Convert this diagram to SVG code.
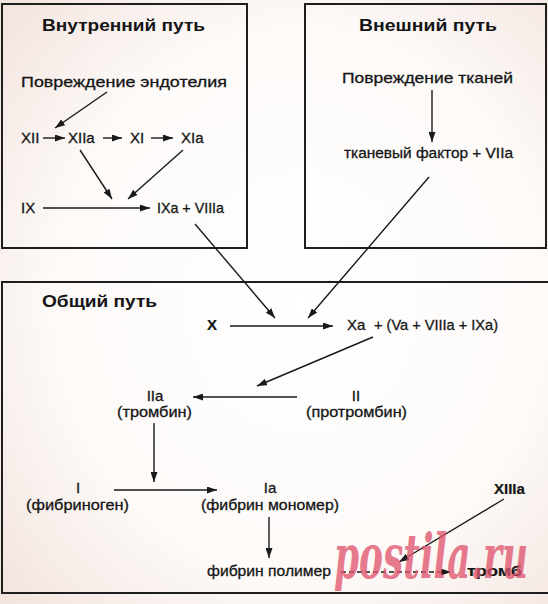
<svg xmlns="http://www.w3.org/2000/svg" width="548" height="604" viewBox="0 0 548 604">
<defs>
<radialGradient id="bg" cx="0.55" cy="0.5" r="0.75">
<stop offset="0" stop-color="#ffffff"/>
<stop offset="0.6" stop-color="#fdfaf8"/>
<stop offset="1" stop-color="#f2e2dc"/>
</radialGradient>
<marker id="ah" markerUnits="userSpaceOnUse" markerWidth="10" markerHeight="7" refX="10" refY="3.5" orient="auto">
<path d="M0,0 L10,3.5 L0,7 z" fill="#1a1a1a"/>
</marker>
</defs>
<style>
.box{fill:none;stroke:#1e1e1e;stroke-width:2}
.t{font-family:"Liberation Sans",Arial,sans-serif;font-size:15px;fill:#151515;stroke:#151515;stroke-width:0.3}
.b{font-weight:bold;stroke-width:0.2}
.h{font-family:"Liberation Sans",Arial,sans-serif;font-size:17px;font-weight:bold;fill:#151515}
.c line{stroke:#1a1a1a;stroke-width:1.4;marker-end:url(#ah)}
.c .d{stroke-dasharray:5 3}
.wm{font-family:"DejaVu Serif","Liberation Serif",serif;font-style:italic;font-weight:bold;font-size:62px;fill:#e0566f;opacity:0.78}
</style>
<rect width="548" height="604" fill="url(#bg)"/>
<g id="intrinsic">
<rect class="box" x="2" y="4" width="245" height="244"/>
<text class="h" x="42" y="31" textLength="163" lengthAdjust="spacingAndGlyphs">Внутренний путь</text>
<text class="t" x="21" y="87" textLength="206" lengthAdjust="spacingAndGlyphs">Повреждение эндотелия</text>
<text class="t" x="21" y="143">XII</text>
<text class="t" x="68" y="143">XIIa</text>
<text class="t" x="130" y="143">XI</text>
<text class="t" x="181" y="143">XIa</text>
<text class="t" x="21" y="213">IX</text>
<text class="t" x="157" y="213" textLength="67" lengthAdjust="spacingAndGlyphs">IXa + VIIIa</text>
</g>
<g id="extrinsic">
<rect class="box" x="305" y="4" width="241" height="244"/>
<text class="h" x="359" y="31" textLength="138" lengthAdjust="spacingAndGlyphs">Внешний путь</text>
<text class="t" x="342" y="83" textLength="171" lengthAdjust="spacingAndGlyphs">Повреждение тканей</text>
<text class="t" x="344" y="158" textLength="169" lengthAdjust="spacingAndGlyphs">тканевый фактор + VIIa</text>
</g>
<g id="common">
<rect class="box" x="2" y="282" width="560" height="311"/>
<text class="h" x="42" y="307" textLength="115" lengthAdjust="spacingAndGlyphs">Общий путь</text>
<text class="t b" x="207" y="330">X</text>
<text class="t" x="347" y="330">Xa</text>
<text class="t" x="374" y="330" textLength="124" lengthAdjust="spacingAndGlyphs">+ (Va + VIIIa + IXa)</text>
<text class="t" x="155" y="401" text-anchor="middle">IIa</text>
<text class="t" x="117" y="417" textLength="75" lengthAdjust="spacingAndGlyphs">(тромбин)</text>
<text class="t" x="356" y="401" text-anchor="middle">II</text>
<text class="t" x="306" y="417" textLength="101" lengthAdjust="spacingAndGlyphs">(протромбин)</text>
<text class="t" x="78" y="493" text-anchor="middle">I</text>
<text class="t" x="26" y="510" textLength="103" lengthAdjust="spacingAndGlyphs">(фибриноген)</text>
<text class="t" x="270" y="493" text-anchor="middle">Ia</text>
<text class="t" x="201" y="510" textLength="138" lengthAdjust="spacingAndGlyphs">(фибрин мономер)</text>
<text class="t" x="207" y="576" textLength="124" lengthAdjust="spacingAndGlyphs">фибрин полимер</text>
<text class="t b" x="467" y="576" textLength="55" lengthAdjust="spacingAndGlyphs">тромб</text>
<text class="t b" x="494" y="494">XIIIa</text>
</g>
<g id="connectors" class="c">
<line x1="107" y1="92" x2="55" y2="128"/>
<line x1="43" y1="138" x2="65" y2="138"/>
<line x1="103" y1="138" x2="122" y2="138"/>
<line x1="151" y1="138" x2="173" y2="138"/>
<line x1="80" y1="150" x2="112" y2="199"/>
<line x1="183" y1="150" x2="128" y2="199"/>
<line x1="43" y1="208" x2="150" y2="208"/>
<line x1="195" y1="224" x2="275" y2="318"/>
<line x1="432" y1="90" x2="432" y2="142"/>
<line x1="429" y1="177" x2="308" y2="318"/>
<line x1="230" y1="326" x2="333" y2="326"/>
<line x1="373" y1="337" x2="257" y2="386"/>
<line x1="297" y1="397" x2="193" y2="397"/>
<line x1="154" y1="423" x2="154" y2="482"/>
<line x1="114" y1="490" x2="217" y2="490"/>
<line x1="269" y1="517" x2="269" y2="558"/>
<line class="d" x1="341" y1="572" x2="451" y2="572"/>
<line x1="504" y1="499" x2="399" y2="562"/>
</g>
<text class="wm" x="334" y="578" textLength="194" lengthAdjust="spacingAndGlyphs">postila.ru</text>
</svg>
